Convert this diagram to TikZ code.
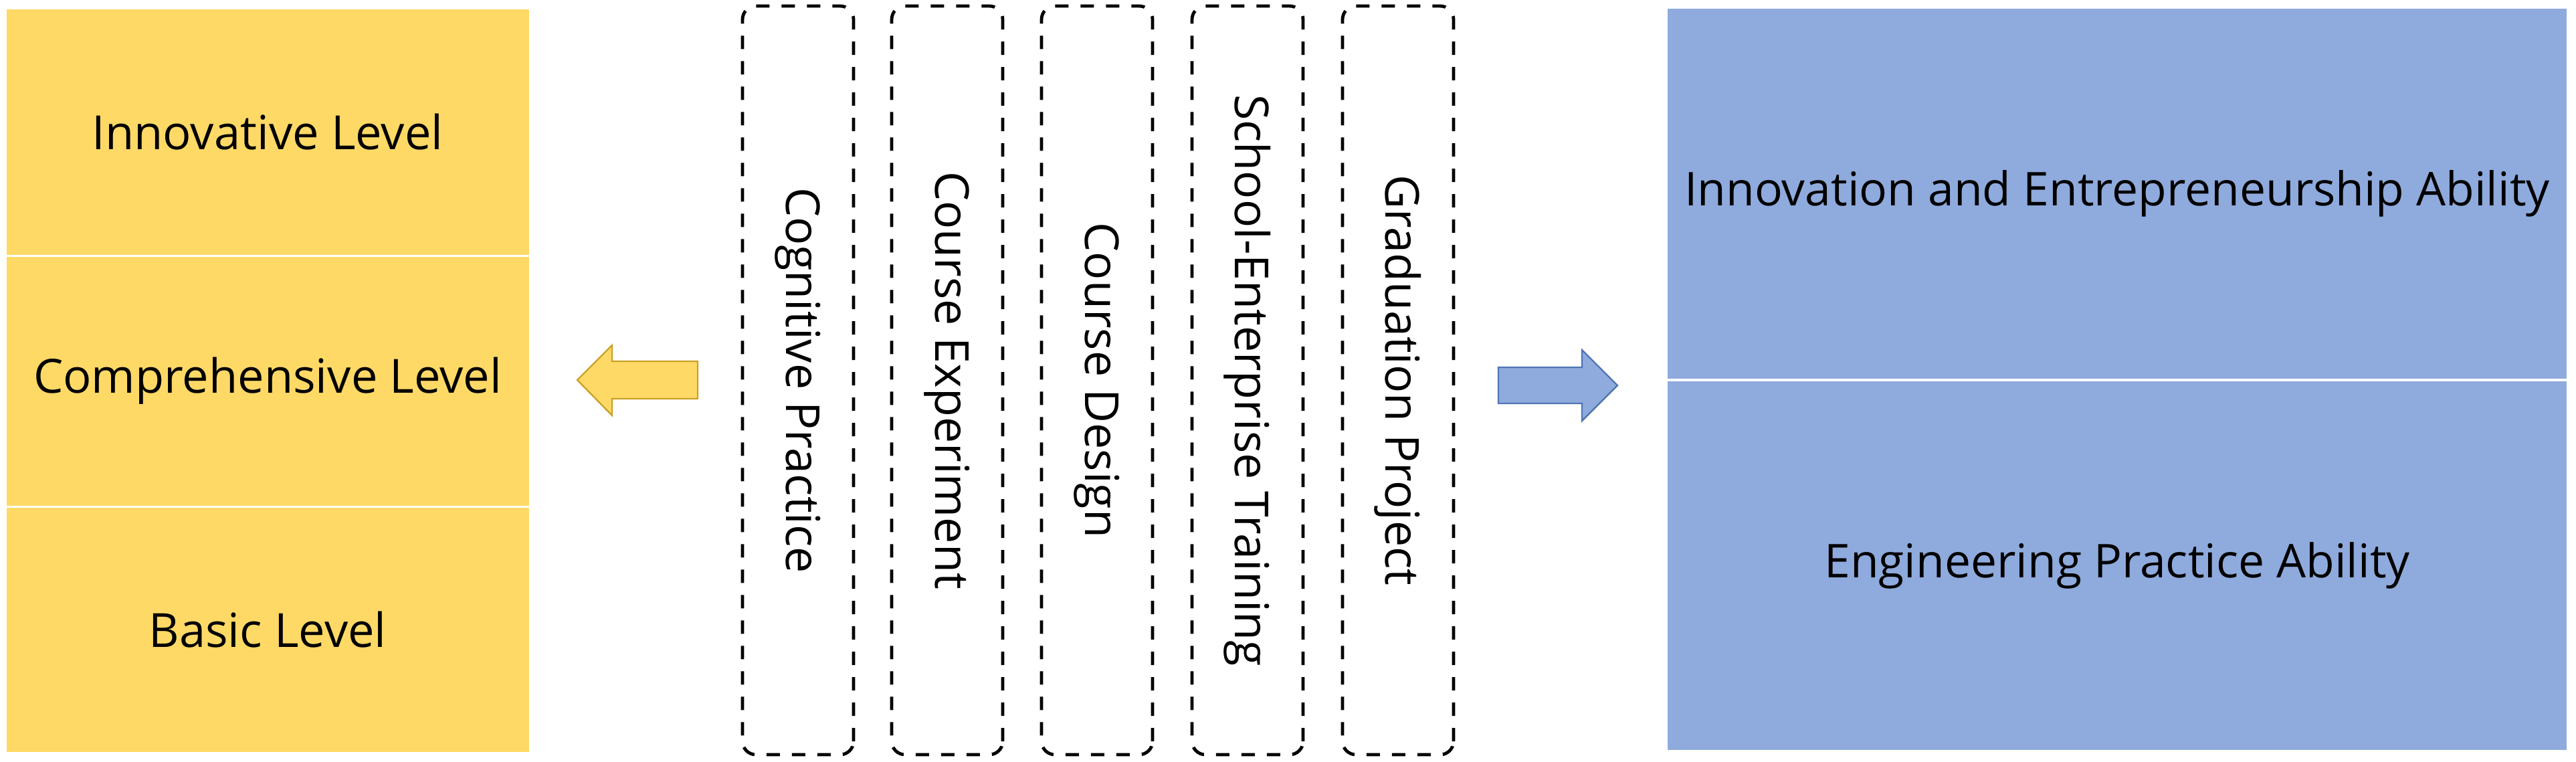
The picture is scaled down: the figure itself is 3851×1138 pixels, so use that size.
\documentclass[tikz,border=0pt]{standalone}
\usepackage{fontspec}
\setmainfont{Open Sans}
\definecolor{goldfill}{HTML}{FFD966}
\definecolor{goldline}{HTML}{C9A227}
\definecolor{bluefill}{HTML}{8FAADC}
\definecolor{blueline}{HTML}{4F76B5}
\tikzset{
  ybox/.style={rectangle, fill=goldfill, draw=white, line width=0.75pt, inner sep=0pt,
    minimum width=196pt, font=\fontsize{17.6}{21}\selectfont},
  bbox/.style={rectangle, fill=bluefill, draw=white, line width=0.9pt, inner sep=0pt,
    minimum width=337pt, font=\fontsize{17.4}{21}\selectfont},
  dbox/.style={rectangle, draw=black, dash pattern=on 5pt off 4.5pt, line width=1.2pt,
    rounded corners=5pt, rotate=-90, minimum width=279.75pt, minimum height=41.5pt,
    inner sep=0pt, font=\fontsize{17.5}{21}\selectfont},
  yarrow/.style={fill=goldfill, draw=goldline, line width=0.6pt, line join=miter},
  barrow/.style={fill=bluefill, draw=blueline, line width=0.6pt, line join=miter}
}
\begin{document}
\begin{tikzpicture}[x=0.25pt,y=-0.25pt]
\useasboundingbox (0,0) rectangle (3851,1138);
% left levels
\node[ybox, minimum height=92.5pt] (innov) at (400,197) {Innovative Level};
\node[ybox, minimum height=93.75pt] (compr) at (400,569.5) {Comprehensive Level};
\node[ybox, minimum height=92pt] (basic) at (400,941) {Basic Level};
% practice stages
\node[dbox] (cog) at (1193,568.5) {Cognitive Practice};
\node[dbox] (cexp) at (1416,568.5) {Course Experiment};
\node[dbox] (cdes) at (1640,568.5) {Course Design};
\node[dbox] (set) at (1865,568.5) {School-Enterprise Training};
\node[dbox] (grad) at (2090,568.5) {Graduation Project};
% abilities
\node[bbox, minimum height=139.25pt] (iea) at (3165,289.5) {Innovation and Entrepreneurship Ability};
\node[bbox, minimum height=138.75pt] (epa) at (3165,845.5) {Engineering Practice Ability};
% block arrows
\draw[yarrow] (863,568) -- (915,516) -- (915,540) -- (1043,540) -- (1043,596)
  -- (915,596) -- (915,621) -- cycle;
\draw[barrow] (2418,576) -- (2365,523) -- (2365,549) -- (2240,549) -- (2240,603)
  -- (2365,603) -- (2365,629) -- cycle;
\end{tikzpicture}
\end{document}
